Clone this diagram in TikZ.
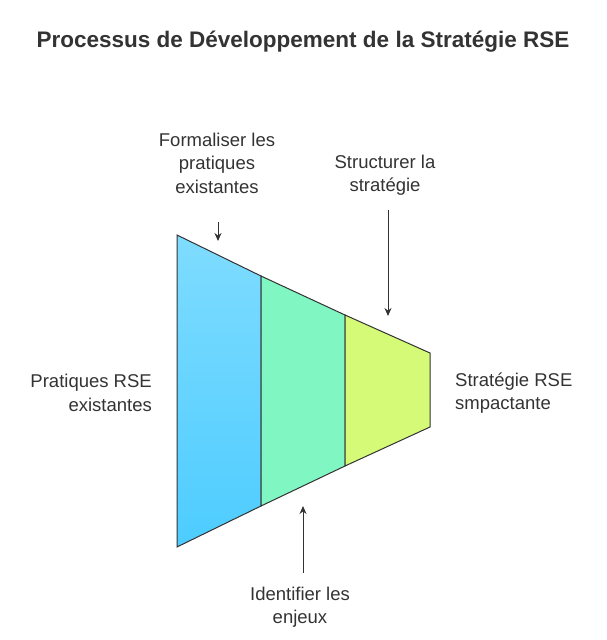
\documentclass[tikz,border=0pt]{standalone}
\usepackage{fontspec}
\setmainfont{Liberation Sans}
\usetikzlibrary{arrows.meta,positioning}
\definecolor{stageone}{HTML}{7FDCFF}
\definecolor{stageonedark}{HTML}{4DCCFF}
\definecolor{stagetwo}{HTML}{80F7C2}
\definecolor{stagethree}{HTML}{D4FA78}
\definecolor{txt}{HTML}{333333}
\tikzset{
  lbl/.style={text=txt,font=\fontsize{18.5}{23.5}\selectfont,align=center,inner sep=0pt},
  pointer/.style={draw=txt,line width=1pt,-{Stealth[length=8pt,width=7pt]}},
  stage/.style={draw=txt,line width=1pt}
}
\begin{document}
\begin{tikzpicture}[x=1pt,y=-1pt]
\useasboundingbox (0,0) rectangle (607,640);
\node[text=txt,font=\bfseries\fontsize{22.5}{26}\selectfont] (title) at (303,42) {Processus de Développement de la Stratégie RSE};

% funnel stages
\shade[top color=stageone,bottom color=stageonedark] (177,235) -- (261,276) -- (261,506) -- (177,547) -- cycle;
\draw[stage] (177,235) -- (261,276) -- (261,506) -- (177,547) -- cycle;
\draw[stage,fill=stagetwo] (261,276) -- (345,315) -- (345,466) -- (261,506) -- cycle;
\draw[stage,fill=stagethree] (345,315) -- (430,353) -- (430,427) -- (345,466) -- cycle;

\coordinate (t1) at (218,241);
\coordinate (t2) at (388,316);
\coordinate (t3) at (303,506);

% labels
\node[lbl] (formal) at (217,163) {Formaliser les\\pratiques\\existantes};
\node[lbl] (struct) at (385,175) {Structurer la\\stratégie};
\node[lbl,align=right,anchor=east] (input) at (152,393) {Pratiques RSE\\existantes};
\node[lbl,align=left,anchor=west] (output) at (455,393) {Stratégie RSE\\smpactante};
\node[lbl] (enjeux) at (300,607) {Identifier les\\enjeux};

\draw[pointer] (218,222) -- (t1);
\draw[pointer] (388,210) -- (t2);
\draw[pointer] (303,573) -- (t3);
\end{tikzpicture}
\end{document}
